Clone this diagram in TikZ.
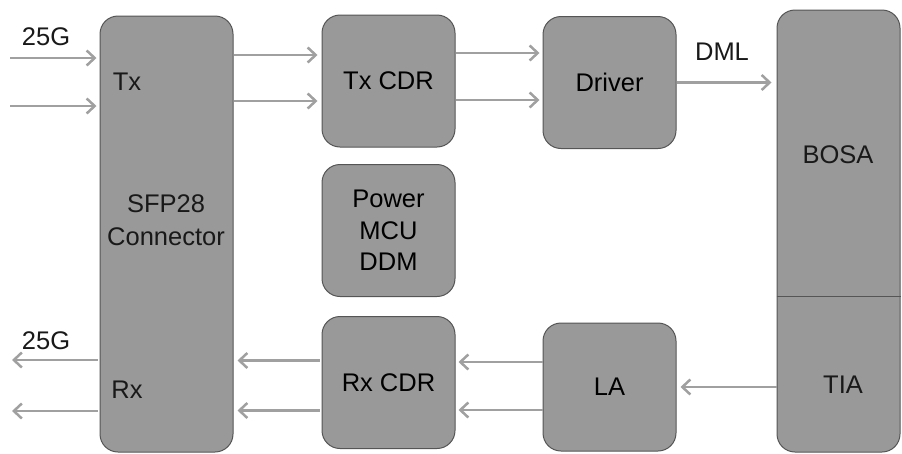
\documentclass[tikz,border=0pt]{standalone}
\usepackage{fontspec}
\setmainfont{Liberation Sans}
\usetikzlibrary{calc,arrows.meta}
\definecolor{boxfill}{RGB}{153,153,153}
\definecolor{boxline}{RGB}{85,85,85}
\definecolor{sigcolor}{RGB}{160,160,160}
\tikzset{
	block/.style={draw=boxline,fill=boxfill,rounded corners=18pt,line width=1pt,inner sep=0pt,minimum width=133pt,minimum height=132pt,align=center,font=\fontsize{25.5}{31.5}\selectfont},%
	tall/.style={block,minimum height=436pt},%
	lbl/.style={inner sep=0pt,align=center,font=\fontsize{25.5}{33}\selectfont,text=black!90},%
	sig/.style={draw=sigcolor,line width=2.5pt,-{Straight Barb[length=8pt,width=15pt]}},%
	divider/.style={draw=boxline,line width=1pt},%
}

\begin{document}
\begin{tikzpicture}[x=1pt,y=-1pt]
		\useasboundingbox (0,0) rectangle (902,453);
		% Blocks {{{
		\node[tall] (sfp) at (166.5,234) {};
		\node[block] (txcdr) at (388.5,81) {Tx CDR};
		\node[block] (driver) at (609.5,82.5) {Driver};
		\node[block] (pmd) at (388.5,230.5) {Power\\MCU\\DDM};
		\node[block] (rxcdr) at (388.5,382.5) {Rx CDR};
		\node[block,minimum height=128pt] (la) at (609.5,387) {LA};
		\node[block,minimum width=123pt,minimum height=442pt] (bosa) at (838.5,231) {};
		\draw[divider] (bosa.west |- 0,296) -- (bosa.east |- 0,296);
		% }}}
		% Labels {{{
		\node[lbl] (sfplbl) at (166,220) {SFP28\\Connector};
		\node[lbl] (txlbl) at (127,82) {Tx};
		\node[lbl] (rxlbl) at (127,390) {Rx};
		\node[lbl] (bosalbl) at (838,155) {BOSA};
		\node[lbl] (tialbl) at (843,385) {TIA};
		\node[lbl] (inrate) at (46,37) {25G};
		\node[lbl] (outrate) at (46,341) {25G};
		\node[lbl] (dml) at (722,52) {DML};
		% }}}
		% Signals {{{
		\coordinate (in1) at (10,58);
		\coordinate (in2) at (10,106);
		\coordinate (out1) at (12,360);
		\coordinate (out2) at (12,411);
		\draw[sig] (in1) -- ($(in1 -| sfp.west)+(-3,0)$);
		\draw[sig] (in2) -- ($(in2 -| sfp.west)+(-3,0)$);
		\foreach \dy in {-26,20} {
			\draw[sig] ($(sfp.east |- txcdr.west)+(0,\dy)$) -- ($(txcdr.west)+(-4,\dy)$);
		}
		\foreach \dy in {-28,19} {
			\draw[sig] ($(txcdr.east)+(0,\dy)$) -- ($(txcdr.east -| driver.west)+(-3,\dy)$);
		}
		\draw[sig] (driver.east) -- ($(driver.east -| bosa.west)+(-5,0)$);
		\draw[sig] (bosa.west |- la.east) -- ($(la.east)+(4,0)$);
		\foreach \dy in {-25,23} {
			\draw[sig] ($(la.west)+(0,\dy)$) -- ($(la.west -| rxcdr.east)+(3,\dy)$);
		}
		\foreach \dy in {-22,28} {
			\draw[sig] ($(rxcdr.west)+(-2,\dy)$) -- ($(rxcdr.west -| sfp.east)+(4,\dy)$);
		}
		\draw[sig] ($(out1 -| sfp.west)+(-2,0)$) -- (out1);
		\draw[sig] ($(out2 -| sfp.west)+(-2,0)$) -- (out2);
		% }}}
\end{tikzpicture}
\end{document}
